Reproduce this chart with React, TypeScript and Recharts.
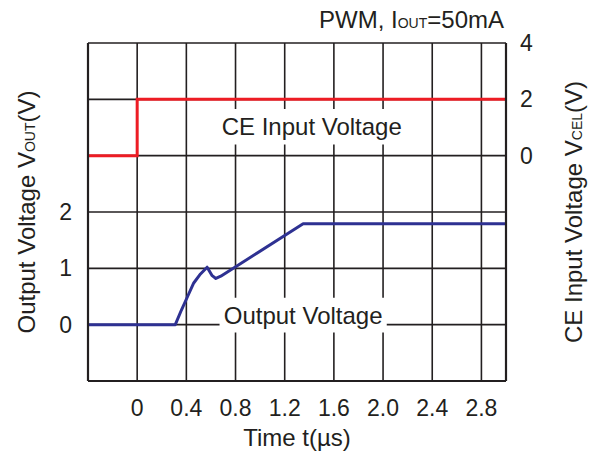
import { LineChart, Line, XAxis, YAxis, CartesianGrid, ReferenceArea, Customized } from 'recharts';

const INK = '#231f20';
const RED = '#ed1c24';
const BLUE = '#2e3192';
const FONT = '"Liberation Sans", Arial, Helvetica, sans-serif';

// time axis (µs)
const timeTicks = [-0.4, 0, 0.4, 0.8, 1.2, 1.6, 2.0, 2.4, 2.8];
const timeTickLabels = ['', '0', '0.4', '0.8', '1.2', '1.6', '2.0', '2.4', '2.8'];

// left axis: output voltage
const voutTicks = [-1, 0, 1, 2, 3, 4, 5];
const voutTickLabels = ['', '0', '1', '2', '', '', ''];

// right axis: CE input voltage
const vceTicks = [0, 2, 4];
const vceTickLabels = ['0', '2', '4'];

// CE input voltage trace
const ceTime = [-0.4, 0, 0, 3.0];
const ceVolt = [0, 0, 2, 2];

// output voltage trace
const outTime = [-0.4, 0.31, 0.36, 0.41, 0.46, 0.515, 0.569, 0.61, 0.64, 0.68, 1.35, 3.0];
const outVolt = [0, 0, 0.26, 0.5, 0.74, 0.9, 1.02, 0.87, 0.82, 0.86, 1.79, 1.79];

const ceData = ceTime.map((t, i) => ({ t, v: ceVolt[i] }));
const outData = outTime.map((t, i) => ({ t, v: outVolt[i] }));

const labelOf = (ticks: number[], labels: string[]) => (v: number) => {
  const i = ticks.findIndex(k => Math.abs(k - v) < 1e-6);
  return i >= 0 ? labels[i] : '';
};

function Title() {
  return (
    <text x={504} y={28} textAnchor="end" fill={INK} fontSize={24} fontFamily={FONT}>
      PWM, I<tspan fontSize={14}>OUT</tspan>=50mA
    </text>
  );
}

const leftTitle = ({ viewBox }: any) => {
  const cx = viewBox.x + 35;
  const cy = viewBox.y + viewBox.height / 2;
  return (
    <text x={cx} y={cy} transform={`rotate(-90, ${cx}, ${cy})`} textAnchor="middle" fill={INK} fontSize={24} fontFamily={FONT}>
      Output Voltage V<tspan fontSize={14}>OUT</tspan>(V)
    </text>
  );
};

const rightTitle = ({ viewBox }: any) => {
  const cx = viewBox.x + 76;
  const cy = viewBox.y + viewBox.height / 2;
  return (
    <text x={cx} y={cy} transform={`rotate(-90, ${cx}, ${cy})`} textAnchor="middle" fill={INK} fontSize={24} fontFamily={FONT}>
      CE Input Voltage V<tspan fontSize={14}>CEL</tspan>(V)
    </text>
  );
};

const bottomTitle = ({ viewBox }: any) => (
  <text x={viewBox.x + viewBox.width / 2} y={viewBox.y + 65} textAnchor="middle" fill={INK} fontSize={24} fontFamily={FONT}>
    Time t(µs)
  </text>
);

export default function App() {
  return (
    <div style={{ position: 'absolute', left: 0, top: 0, width: 597, height: 454, background: '#fff', fontFamily: FONT }}>
      <LineChart width={597} height={454} margin={{ top: 43, right: 0, bottom: 0, left: 0 }}>
        <CartesianGrid yAxisId="out" stroke={INK} strokeWidth={1.6} />
        <XAxis
          dataKey="t"
          type="number"
          domain={[-0.4, 3.0]}
          ticks={timeTicks}
          tickFormatter={labelOf(timeTicks, timeTickLabels)}
          interval={0}
          allowDataOverflow
          height={73}
          tickSize={0}
          tickMargin={19}
          tickLine={false}
          axisLine={{ stroke: INK, strokeWidth: 2.2 }}
          tick={{ fill: INK, fontSize: 23 }}
          label={{ content: bottomTitle }}
        />
        <YAxis
          yAxisId="out"
          type="number"
          domain={[-1, 5]}
          ticks={voutTicks}
          tickFormatter={labelOf(voutTicks, voutTickLabels)}
          interval={0}
          allowDataOverflow
          width={88}
          tickSize={0}
          tickMargin={16}
          tickLine={false}
          axisLine={{ stroke: INK, strokeWidth: 2.2 }}
          tick={{ fill: INK, fontSize: 23 }}
          label={{ content: leftTitle }}
        />
        <YAxis
          yAxisId="ce"
          orientation="right"
          type="number"
          domain={[-8, 4]}
          ticks={vceTicks}
          tickFormatter={labelOf(vceTicks, vceTickLabels)}
          interval={0}
          allowDataOverflow
          width={91}
          tickSize={0}
          tickMargin={14}
          tickLine={false}
          axisLine={{ stroke: INK, strokeWidth: 2.2 }}
          tick={{ fill: INK, fontSize: 23 }}
          label={{ content: rightTitle }}
        />
        <ReferenceArea
          yAxisId="out"
          x1={0.63}
          x2={2.21}
          y1={3.2}
          y2={3.83}
          fill="#fff"
          fillOpacity={1}
          stroke="none"
          label={{ value: 'CE Input Voltage', position: 'center', fill: INK, fontSize: 24 }}
        />
        <ReferenceArea
          yAxisId="out"
          x1={0.67}
          x2={2.03}
          y1={-0.14}
          y2={0.48}
          fill="#fff"
          fillOpacity={1}
          stroke="none"
          label={{ value: 'Output Voltage', position: 'center', fill: INK, fontSize: 24 }}
        />
        <Line
          yAxisId="ce"
          data={ceData}
          dataKey="v"
          type="linear"
          stroke={RED}
          strokeWidth={3}
          dot={false}
          isAnimationActive={false}
        />
        <Line
          yAxisId="out"
          data={outData}
          dataKey="v"
          type="linear"
          stroke={BLUE}
          strokeWidth={3}
          strokeLinejoin="round"
          dot={false}
          isAnimationActive={false}
        />
        <Customized component={Title} />
      </LineChart>
    </div>
  );
}
